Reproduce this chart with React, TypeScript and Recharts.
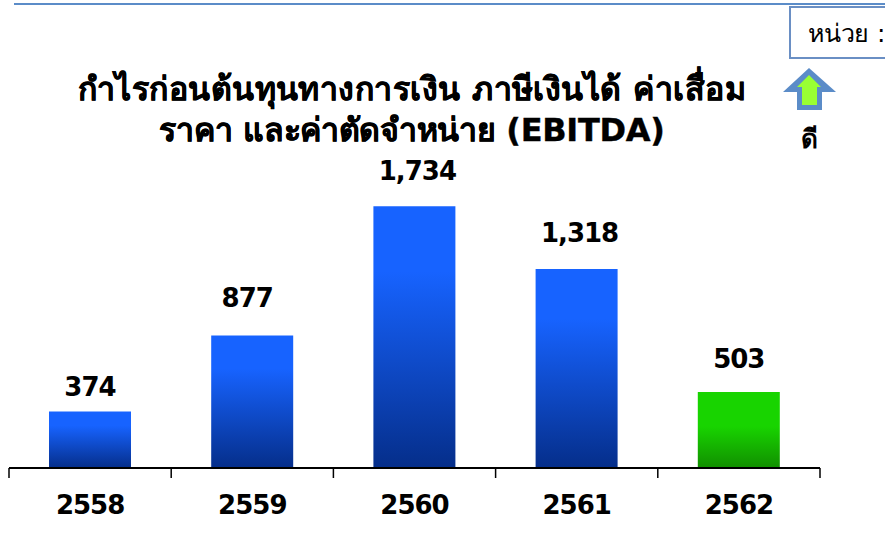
import { BarChart, Bar, XAxis, YAxis, Cell, LabelList } from "recharts";

const years = ["2558", "2559", "2560", "2561", "2562"];
const ebitda = [374, 877, 1734, 1318, 503];
const fills = ["url(#blueBar)", "url(#blueBar)", "url(#blueBar)", "url(#blueBar)", "url(#greenBar)"];
const titleLines = ["กำไรก่อนต้นทุนทางการเงิน ภาษีเงินได้ ค่าเสื่อม", "ราคา และค่าตัดจำหน่าย (EBITDA)"];

const data = years.map((year, i) => ({ year, value: ebitda[i] }));

// the labels don't sit at an even distance above the bars in the original
const labelGaps = [26, 39, 36, 37, 34];
const labelShifts = [0, -5, 3, 3, 0];
const titleSpacing = [0.45, -0.3];
const font = "'DejaVu Sans', Tahoma, sans-serif";
const bandWidth = 811 / years.length;

function ValueLabel(props: any) {
  const { x, y, width, value, index } = props;
  return (
    <text
      x={x + width / 2 + labelShifts[index]}
      y={y - labelGaps[index]}
      dy={10}
      textAnchor="middle"
      fontFamily={font}
      fontWeight="bold"
      fontSize={26}
      letterSpacing={-1}
      fill="#000"
    >
      {value.toLocaleString("en-US")}
    </text>
  );
}

// ticks sit on the category boundaries, not under the bars
function YearTick(props: any) {
  const { x, y, payload, index } = props;
  const left = x - bandWidth / 2;
  const right = x + bandWidth / 2;
  return (
    <g>
      <line x1={left} x2={left} y1={y - 10} y2={y} stroke="#000" strokeWidth={1.5} />
      {index === years.length - 1 && (
        <line x1={right} x2={right} y1={y - 10} y2={y} stroke="#000" strokeWidth={1.5} />
      )}
      <text
        x={x}
        y={y + 36}
        textAnchor="middle"
        fontFamily={font}
        fontWeight="bold"
        fontSize={26}
        letterSpacing={-1}
        fill="#000"
      >
        {payload.value}
      </text>
    </g>
  );
}

export default function App() {
  return (
    <div style={{ position: "absolute", left: 0, top: 0, width: 885, height: 554, overflow: "hidden", background: "#fff", fontFamily: font }}>
      <div style={{ position: "absolute", left: 14, top: 3, width: 871, height: 2, background: "#5b8cc8" }} />
      {/* box runs off the page on the right, same as the original */}
      <div
        style={{
          position: "absolute",
          left: 789,
          top: 6,
          width: 120,
          height: 53,
          boxSizing: "border-box",
          border: "2px solid #6a8fc4",
        }}
      />
      <div
        style={{
          position: "absolute",
          left: 808,
          top: 8,
          width: 77,
          fontSize: 25,
          lineHeight: "52px",
          letterSpacing: -0.2,
          whiteSpace: "nowrap",
          color: "#000",
        }}
      >
        หน่วย :
      </div>
      <div
        style={{
          position: "absolute",
          left: 0,
          top: 69,
          width: 824,
          textAlign: "center",
          fontWeight: "bold",
          fontSize: 32,
          lineHeight: "41px",
          color: "#000",
          WebkitTextStroke: "0.4px #000",
        }}
      >
        {titleLines.map((line, i) => (
          <div key={line} style={{ whiteSpace: "nowrap", letterSpacing: titleSpacing[i] }}>{line}</div>
        ))}
      </div>
      <svg style={{ position: "absolute", left: 780, top: 64 }} width={60} height={50}>
        <path d="M29 4 L56 28 L42 28 L42 46 L17 46 L17 28 L3 28 Z" fill="#5b8cc8" />
        <path d="M29 11 L41 23 L37 23 L37 41 L22 41 L22 23 L17 23 Z" fill="#99ff33" />
      </svg>
      <div style={{ position: "absolute", left: 790, top: 118, width: 38, textAlign: "center", fontWeight: "bold", fontSize: 26, color: "#000" }}>ดี</div>

      <BarChart
        width={885}
        height={554}
        data={data}
        margin={{ top: 166, right: 65, bottom: 0, left: 9 }}
        barSize={82}
      >
        <defs>
          <linearGradient id="blueBar" x1="0" y1="0" x2="0" y2="1">
            <stop offset="0%" stopColor="#1763ff" />
            <stop offset="25%" stopColor="#1763ff" />
            <stop offset="100%" stopColor="#052e8a" />
          </linearGradient>
          <linearGradient id="greenBar" x1="0" y1="0" x2="0" y2="1">
            <stop offset="0%" stopColor="#18d400" />
            <stop offset="45%" stopColor="#18d400" />
            <stop offset="100%" stopColor="#118f00" />
          </linearGradient>
        </defs>
        <XAxis
          dataKey="year"
          height={86}
          axisLine={{ stroke: "#000", strokeWidth: 2 }}
          tickLine={false}
          tickSize={8}
          interval={0}
          tick={<YearTick />}
        />
        <YAxis hide domain={[0, 2000]} />
        <Bar dataKey="value" isAnimationActive={false}>
          {data.map((d, i) => (
            <Cell key={d.year} fill={fills[i]} />
          ))}
          <LabelList dataKey="value" content={<ValueLabel />} />
        </Bar>
      </BarChart>
    </div>
  );
}
